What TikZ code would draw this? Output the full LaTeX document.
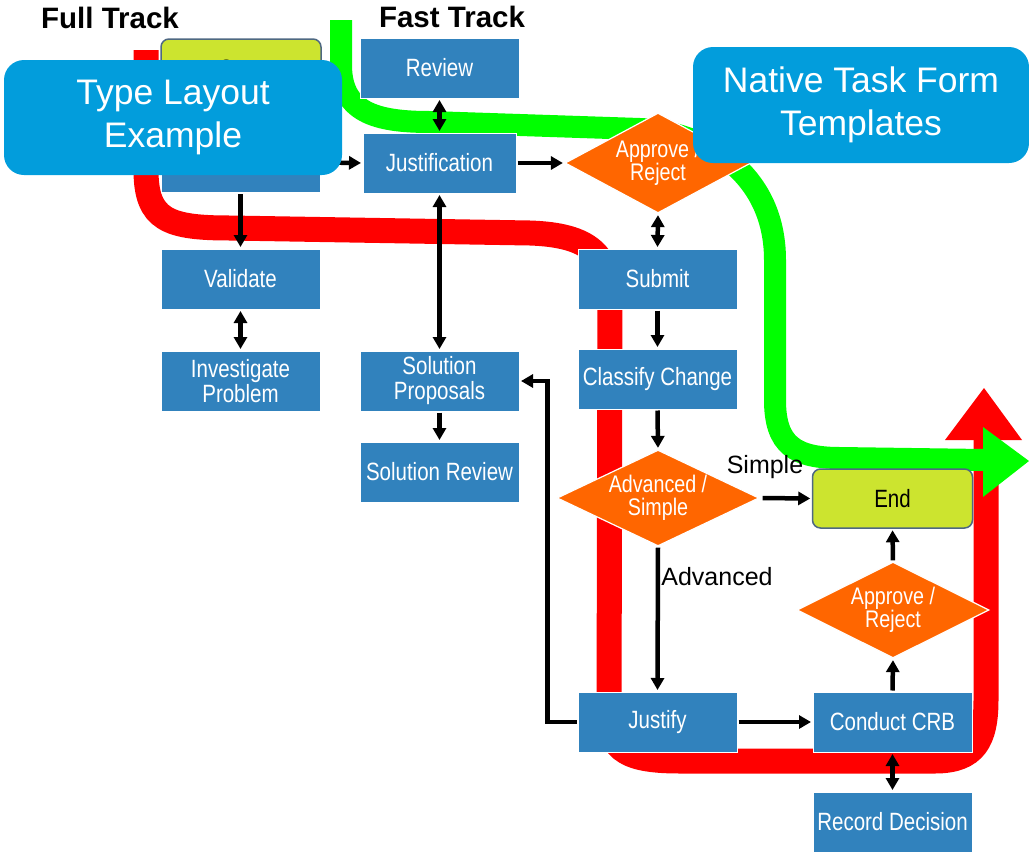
\documentclass[tikz,border=0pt]{standalone}
\usepackage{fontspec}
\setmainfont{Liberation Sans}
\newfontfamily\narrowfont[FakeStretch=0.82]{Liberation Sans}
\usetikzlibrary{shapes.geometric,arrows.meta}
\definecolor{boxblue}{RGB}{49,130,189}
\definecolor{callblue}{RGB}{2,157,220}
\definecolor{dorange}{RGB}{255,102,0}
\definecolor{lime}{RGB}{204,228,47}
\definecolor{limeborder}{RGB}{78,104,130}
\definecolor{trackred}{RGB}{255,0,0}
\definecolor{trackgreen}{RGB}{0,255,0}
\begin{document}
\begin{tikzpicture}[x=1pt,y=-1pt,
  box/.style={rectangle,fill=boxblue,draw=white,line width=1pt,minimum width=159pt,minimum height=60pt,inner sep=0pt,text=white,align=center,font=\narrowfont\fontsize{25}{25}\selectfont},
  endbox/.style={rectangle,rounded corners=8pt,fill=lime,draw=limeborder,line width=1.5pt,minimum width=160pt,minimum height=59pt,inner sep=0pt,text=black,font=\narrowfont\fontsize{25}{25}\selectfont},
  decision/.style={diamond,aspect=2,fill=dorange,draw=white,line width=1.2pt,inner sep=0pt,text=white,align=center,font=\narrowfont\fontsize{24}{23}\selectfont},
  callout/.style={rectangle,rounded corners=20pt,fill=callblue,inner sep=0pt,text=white,align=center,font=\fontsize{35.5}{43.5}\selectfont},
  title/.style={font=\bfseries\fontsize{29.5}{30}\selectfont,anchor=base},
  lbl/.style={font=\fontsize{25}{25}\selectfont,anchor=base},
  arr/.style={line width=4.5pt,-{Triangle[length=12pt,width=13pt]},shorten >=1.5pt,shorten <=1pt},
  darr/.style={line width=4.5pt,{Triangle[length=12pt,width=13pt]}-{Triangle[length=12pt,width=13pt]},shorten >=1.5pt,shorten <=1.5pt},
  redtrack/.style={draw=trackred,line width=25pt},
  greentrack/.style={draw=trackgreen,line width=22pt}
]
\useasboundingbox (0,0) rectangle (1029,852);

% tracks
\path[redtrack] (146,50) -- (146,170) .. controls (146,220) and (168,228) .. (230,228) -- (530,233) .. controls (590,235) and (610,255) .. (610,300) -- (609,715) .. controls (609,752) and (630,761) .. (680,761) -- (935,761) .. controls (975,761) and (986,740) .. (986,700) -- (986,439);
\fill[trackred] (945,440) -- (984,388) -- (1022,440) -- cycle;
\path[greentrack] (341,20) -- (341,65) .. controls (341,112) and (375,122) .. (430,122) -- (640,129) .. controls (700,131) and (775,170) .. (775,260) -- (775,400) .. controls (775,445) and (795,458) .. (840,458) -- (984,460);
\fill[trackgreen] (983,427) -- (1029,461) -- (983,497) -- cycle;

% titles
\node[title] (full) at (110,28) {Full Track};
\node[title] (fast) at (452,27) {Fast Track};

% nodes
\node[endbox] (start) at (241,68.5) {Start};
\node[box] (hid) at (240.5,162.5) {};
\node[box] (review) at (439.5,68) {Review};
\node[box,minimum width=153pt] (just) at (439.5,163) {Justification};
\node[decision,minimum width=186pt,minimum height=100pt] (appr1) at (658,163) {Approve /\\Reject};
\node[box] (submit) at (657.5,279) {Submit};
\node[box] (classify) at (657.5,379) {Classify Change};
\node[decision,minimum width=202pt,minimum height=96pt] (advs) at (658,498) {Advanced /\\Simple};
\node[endbox] (end) at (892.5,498.5) {End};
\node[decision,minimum width=192pt,minimum height=96pt] (appr2) at (893,610) {Approve /\\Reject};
\node[box] (justify) at (657.5,722) {Justify};
\node[box] (crb) at (892.5,722) {Conduct CRB};
\node[box] (record) at (892.5,822) {Record Decision};
\node[box] (validate) at (240.5,279) {Validate};
\node[box] (invest) at (240.5,381) {Investigate\\Problem};
\node[box] (solprop) at (439.5,381) {Solution\\Proposals};
\node[box] (solrev) at (439.5,472) {Solution Review};

% labels
\node[lbl] (simple) at (765,473) {Simple};
\node[lbl] (advanced) at (717,585) {Advanced};

% connectors
\draw[arr] (hid.east) -- (just.west);
\draw[arr] (just.east) -- (appr1.west);
\draw[darr] (review.south) -- (just.north);
\draw[darr] (appr1.south) -- (submit.north);
\draw[arr] (submit.south) -- (classify.north);
\draw[arr] (classify.south) -- (advs.north);
\draw[arr,shorten <=3pt] (advs.east) -- (end.west);
\draw[arr] (advs.south) -- (justify.north);
\draw[arr] (justify.east) -- (crb.west);
\draw[arr] (crb.north) -- (appr2.south);
\draw[arr] (appr2.north) -- (end.south);
\draw[darr] (crb.south) -- (record.north);
\draw[arr] (justify.west) -- ++(-30,0) |- (solprop.east);
\draw[arr] (hid.south) -- (validate.north);
\draw[darr] (validate.south) -- (invest.north);
\draw[darr] (just.south) -- (solprop.north);
\draw[arr] (solprop.south) -- (solrev.north);

% callouts
\node[callout,minimum width=338pt,minimum height=115pt] (c1) at (173,117.5) {Type Layout\\Example};
\node[callout,minimum width=336pt,minimum height=116pt] (c2) at (861,105) {Native Task Form\\Templates};
\end{tikzpicture}
\end{document}
